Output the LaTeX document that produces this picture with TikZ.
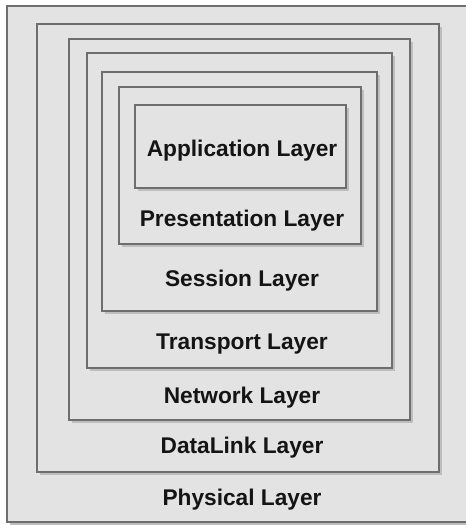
\documentclass[tikz,border=0pt]{standalone}
\usepackage{fontspec}
\setmainfont{Liberation Sans}
\usetikzlibrary{shadows}

\definecolor{boxfill}{HTML}{E3E3E3}
\definecolor{boxline}{HTML}{6E6E6E}
\definecolor{boxshade}{HTML}{BEBEBE}

\begin{document}
\begin{tikzpicture}[x=1pt,y=-1pt,
    layer/.style={fill=boxfill, draw=boxline, line width=2pt,
        drop shadow={shadow xshift=3pt, shadow yshift=-3pt, fill=boxshade, opacity=1}},
    lbl/.style={anchor=base, font=\bfseries\fontsize{22.7}{27}\selectfont, text=black!92}]
    \useasboundingbox (0,0) rectangle (466,525);
    \fill [white] (0,0) rectangle (466,525);
    \clip (0,0) rectangle (466,525);

    % nested boxes, outermost first
    \draw [layer] (7,6) rectangle (478,522);
    \draw [layer] (37,24) rectangle (439,472);
    \draw [layer] (69,39) rectangle (410,420);
    \draw [layer] (87,53) rectangle (392,368);
    \draw [layer] (102,72) rectangle (377,311);
    \draw [layer] (119,87) rectangle (361,244);
    \draw [layer] (135,105) rectangle (346,188);

    % layer names
    \node [lbl] (app)   at (242,156) {Application Layer};
    \node [lbl] (pres)  at (242,226) {Presentation Layer};
    \node [lbl] (sess)  at (242,286) {Session Layer};
    \node [lbl] (trans) at (242,349) {Transport Layer};
    \node [lbl] (net)   at (242,403) {Network Layer};
    \node [lbl] (dlink) at (242,453) {DataLink Layer};
    \node [lbl] (phys)  at (242,505) {Physical Layer};
\end{tikzpicture}
\end{document}
